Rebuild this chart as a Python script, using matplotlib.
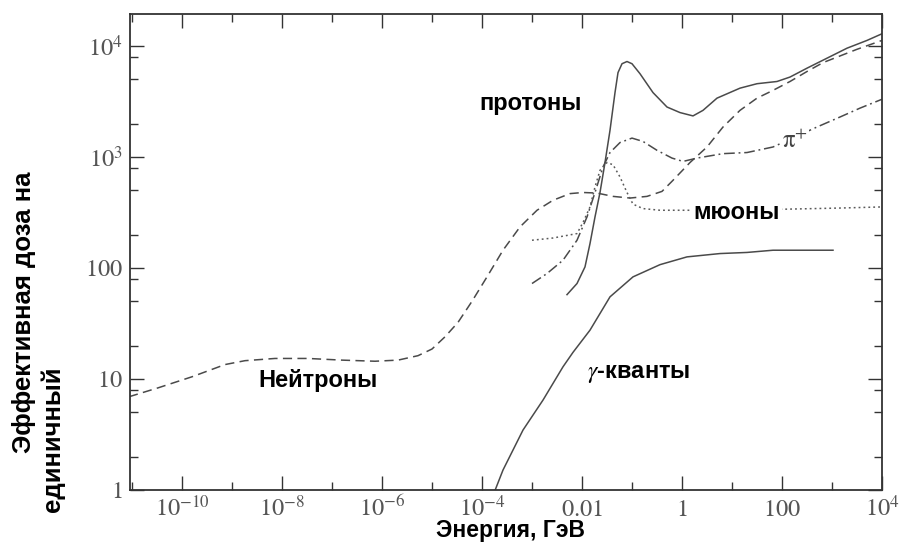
import numpy as np
import matplotlib
matplotlib.use("Agg")
import matplotlib.pyplot as plt

plt.rcParams['mathtext.fontset'] = 'stix'
plt.rcParams['font.family'] = ['Liberation Sans', 'DejaVu Sans']

# log10(энергия, ГэВ) и log10(доза) по кривым
neut_logE = [-11.06, -10.48, -9.8, -9.14, -8.74, -8.14, -7.48, -6.8, -6.14, -5.68,
             -5.28, -5.0, -4.74, -4.48, -4.2, -3.9, -3.58, -3.24, -2.9, -2.58,
             -2.24, -1.98, -1.7, -1.38, -1.04, -0.7, -0.4, -0.18, 0.16, 0.5,
             0.82, 1.16, 1.5, 1.82, 2.16, 2.5, 2.82, 3.16, 3.5, 4.0]
neut_logD = [0.84, 0.92, 1.02, 1.13, 1.165, 1.185, 1.185, 1.17, 1.16, 1.17,
             1.21, 1.27, 1.38, 1.51, 1.70, 1.92, 2.16, 2.37, 2.52, 2.61,
             2.67, 2.68, 2.675, 2.645, 2.63, 2.645, 2.69, 2.79, 2.95, 3.09,
             3.27, 3.42, 3.53, 3.60, 3.68, 3.77, 3.85, 3.91, 3.97, 4.05]

prot_logE = [-2.3, -2.1, -1.94, -1.84, -1.74, -1.64, -1.54, -1.44, -1.34, -1.28,
             -1.2, -1.1, -1.0, -0.84, -0.58, -0.3, -0.04, 0.22, 0.42, 0.7,
             1.16, 1.5, 1.9, 2.16, 2.5, 2.9, 3.3, 3.7, 4.0]
prot_logD = [1.76, 1.86, 2.01, 2.22, 2.46, 2.68, 2.95, 3.24, 3.58, 3.76,
             3.84, 3.86, 3.84, 3.75, 3.58, 3.45, 3.40, 3.37, 3.42, 3.53,
             3.62, 3.66, 3.68, 3.72, 3.80, 3.89, 3.98, 4.05, 4.11]

pion_logE = [-3.0, -2.7, -2.38, -2.1, -1.9, -1.74, -1.58, -1.44, -1.24, -1.0,
             -0.78, -0.5, -0.2, 0.02, 0.3, 0.82, 1.3, 1.82, 2.26, 2.7,
             3.16, 3.56, 4.0]
pion_logD = [1.86, 1.95, 2.07, 2.25, 2.46, 2.68, 2.91, 3.04, 3.13, 3.17,
             3.14, 3.06, 2.99, 2.96, 2.99, 3.03, 3.04, 3.09, 3.18, 3.27,
             3.36, 3.44, 3.52]

muon_logE = [-3.0, -2.58, -2.1, -1.98, -1.84, -1.74, -1.64, -1.5, -1.38, -1.24,
             -1.1, -0.98, -0.78, -0.44, 0.16, 1.1, 2.1, 3.16, 4.0]
muon_logD = [2.25, 2.27, 2.31, 2.41, 2.55, 2.73, 2.88, 2.95, 2.93, 2.82,
             2.68, 2.575, 2.535, 2.52, 2.52, 2.525, 2.53, 2.54, 2.55]

gam_logE = [-3.78, -3.58, -3.18, -2.78, -2.38, -2.18, -1.84, -1.44, -0.98, -0.44,
            0.1, 0.76, 1.3, 1.82, 3.02]
gam_logD = [-0.05, 0.18, 0.54, 0.81, 1.11, 1.24, 1.44, 1.74, 1.92, 2.03,
            2.10, 2.13, 2.14, 2.16, 2.16]

xtick_pos = [1e-10, 1e-8, 1e-6, 1e-4, 1e-2, 1, 100, 1e4]
xtick_lab = [r'$10^{-10}$', r'$10^{-8}$', r'$10^{-6}$', r'$10^{-4}$',
             r'$0.01$', r'$1$', r'$100$', r'$10^{4}$']
ytick_pos = [1, 10, 100, 1e3, 1e4]
ytick_lab = [r'$1$', r'$10$', r'$100$', r'$10^{3}$', r'$10^{4}$']

fig = plt.figure(figsize=(8.99, 5.44), dpi=100)
ax = fig.add_axes([130 / 899, 1 - 490 / 544, 752 / 899, 476 / 544])
ax.set_xscale('log')
ax.set_yscale('log')


def pl(lx, ly, color='#4a4a4a', **kw):
    ax.plot(10 ** np.array(lx), 10 ** np.array(ly), color=color, lw=1.1, **kw)


pl(neut_logE, neut_logD, linestyle=(0, (6, 3.5)))
pl(prot_logE, prot_logD, linestyle='-')
pl(pion_logE, pion_logD, linestyle=(0, (7, 2.5, 1.2, 2.5)))
pl(muon_logE, muon_logD, linestyle=(0, (1.2, 2.0)), color='#5a5a5a')
pl(gam_logE, gam_logD, linestyle='-')

ax.set_xticks(xtick_pos, xtick_lab)
ax.set_xticks([10.0 ** k for k in range(-11, 4, 2)], [''] * 8, minor=True)
ax.set_yticks(ytick_pos, ytick_lab)
yminor = [m * 10.0 ** k for k in range(0, 5) for m in (2, 5, 8)]
ax.set_yticks(yminor, [''] * len(yminor), minor=True)

# пределы после тиков, иначе set_yticks их расширяет
ax.set_xlim(10 ** -11.04, 1e4)
ax.set_ylim(1, 10 ** 4.288)

ax.tick_params(which='both', direction='in', top=True, right=True,
               color='#333333', width=1.0, labelcolor='#555555', labelsize=17.5)
ax.tick_params(which='major', length=10)
ax.tick_params(which='minor', length=5.5)
ax.tick_params(axis='y', pad=5)
ax.tick_params(axis='x', pad=19)
for t in ax.get_xticklabels():
    t.set_verticalalignment('baseline')
for s in ax.spines.values():
    s.set_color('#333333')
    s.set_linewidth(1.3)

bold = dict(fontweight='bold', fontsize=17, color='black')
ax.text(10 ** -3.02, 10 ** 3.48, 'протоны', ha='center', va='center', **bold)
ax.text(10 ** -7.28, 10 ** 0.99, 'Нейтроны', ha='center', va='center', **bold)
ax.text(10 ** -0.86, 10 ** 1.045, r'$\gamma$-кванты', ha='center', va='center', **bold)
ax.text(10 ** 1.1, 10 ** 2.5, 'мюоны', ha='center', va='center',
        bbox=dict(facecolor='white', edgecolor='none', pad=1), **bold)
ax.text(10 ** 2.26, 10 ** 3.14, r'$\mathrm{π}^{+}$', ha='center', va='center',
        fontsize=18, color='#444444',
        bbox=dict(facecolor='white', edgecolor='none', pad=0.5))

fig.text(511 / 899, 1 - 531 / 544, 'Энергия, ГэВ', ha='center', va='center',
         **dict(bold, fontsize=16.5))
ylab = dict(bold, fontsize=18.5)
fig.text(24 / 899, 1 - 312 / 544, 'Эффективная доза на', rotation=90,
         ha='center', va='center', **ylab)
fig.text(53 / 899, 1 - 366 / 544, 'единичный', rotation=90,
         ha='center', va='top', **ylab)

fig.savefig('out.png', dpi=100)
